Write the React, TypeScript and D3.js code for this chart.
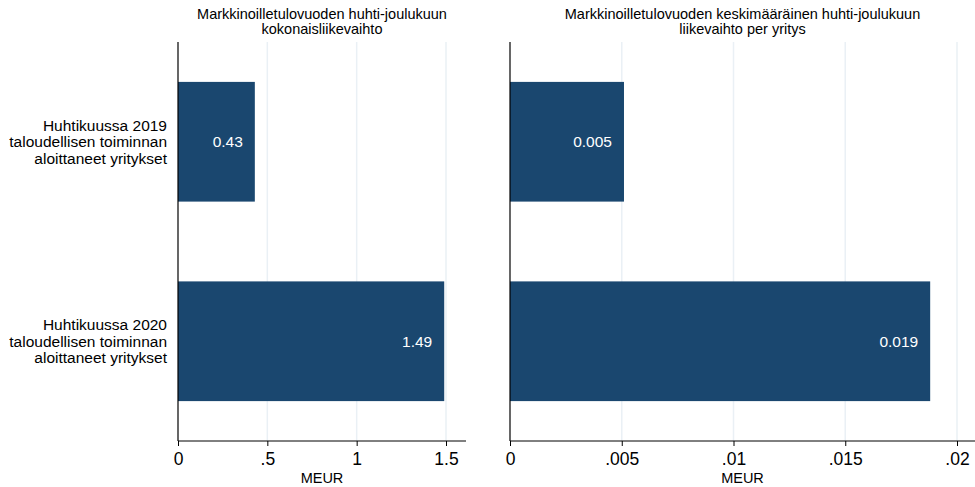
import * as d3 from "d3";
import { useEffect, useRef } from "react";

const categories = [
  ["Huhtikuussa 2019", "taloudellisen toiminnan", "aloittaneet yritykset"],
  ["Huhtikuussa 2020", "taloudellisen toiminnan", "aloittaneet yritykset"],
];
const totalValues = [0.43, 1.49];
const perFirmValues = [0.0051, 0.0188];
const totalTicks = [0, 0.5, 1, 1.5];
const perFirmTicks = [0, 0.005, 0.01, 0.015, 0.02];
const titles = [
  ["Markkinoilletulovuoden huhti-joulukuun", "kokonaisliikevaihto"],
  ["Markkinoilletulovuoden keskimääräinen huhti-joulukuun", "liikevaihto per yritys"],
];

const W = 975;
const H = 487;
const FONT = "Liberation Sans, Arial, sans-serif";
const BAR = "#1a476f";

export default function App() {
  const ref = useRef<SVGSVGElement | null>(null);
  useEffect(() => {
    if (!ref.current) return;
    const svg = d3.select(ref.current);
    svg.selectAll("*").remove();
    const top = 42;
    const bottom = 441;
    const y = d3.scaleBand().domain(["0", "1"]).range([top, bottom]).paddingInner(0.4).paddingOuter(0.2);
    const tfmt = (v: number) => (v === 0 ? "0" : String(v).replace(/^0/, ""));

    const panels = [
      { x0: 178, x1: 466, domain: [0, 1.5], rEnd: 446, values: totalValues, ticks: totalTicks, fmt: (v: number) => v.toFixed(2), title: titles[0] },
      { x0: 510, x1: 975, domain: [0, 0.02], rEnd: 957, values: perFirmValues, ticks: perFirmTicks, fmt: (v: number) => v.toFixed(3), title: titles[1] },
    ];

    panels.forEach((p) => {
      const x = d3.scaleLinear().domain(p.domain).range([p.x0, p.rEnd]);
      const g = svg.append("g");
      // grid
      g.selectAll("line.grid")
        .data(p.ticks.filter((t) => t !== 0))
        .enter()
        .append("line")
        .attr("x1", (d) => x(d))
        .attr("x2", (d) => x(d))
        .attr("y1", top)
        .attr("y2", bottom)
        .attr("stroke", "#eaf0f5")
        .attr("stroke-width", 1.5);
      // bars
      g.selectAll("rect")
        .data(p.values)
        .enter()
        .append("rect")
        .attr("x", x(0))
        .attr("y", (_, i) => y(String(i)) ?? 0)
        .attr("width", (d) => x(d) - x(0))
        .attr("height", y.bandwidth())
        .attr("fill", BAR);
      g.selectAll("text.val")
        .data(p.values)
        .enter()
        .append("text")
        .attr("x", (d) => x(d) - 12)
        .attr("y", (_, i) => (y(String(i)) ?? 0) + y.bandwidth() / 2 + 5.5)
        .attr("text-anchor", "end")
        .attr("fill", "#ffffff")
        .attr("font-family", FONT)
        .attr("font-size", "15.5px")
        .text((d) => p.fmt(d));
      // y axis line
      g.append("line")
        .attr("x1", p.x0)
        .attr("x2", p.x0)
        .attr("y1", top)
        .attr("y2", bottom)
        .attr("stroke", "#000")
        .attr("stroke-width", 1.2);
      // x axis
      const ax = g.append("g")
        .attr("transform", `translate(0,${bottom})`)
        .call(d3.axisBottom(x).tickValues(p.ticks).tickFormat((d) => tfmt(+d)).tickSize(5).tickPadding(7).tickSizeOuter(0));
      ax.select(".domain").attr("d", `M${p.x0},0H${p.x1}`).attr("stroke", "#000");
      ax.selectAll(".tick line").attr("stroke", "#000");
      ax.selectAll("text").attr("fill", "#000").attr("font-family", FONT).attr("font-size", "17.5px");
      g.append("text")
        .attr("x", (p.x0 + p.x1) / 2)
        .attr("y", 483)
        .attr("text-anchor", "middle")
        .attr("font-family", FONT)
        .attr("font-size", "14.5px")
        .text("MEUR");
      // title
      p.title.forEach((line, i) => {
        g.append("text")
          .attr("x", (p.x0 + p.x1) / 2)
          .attr("y", 19 + i * 15)
          .attr("text-anchor", "middle")
          .attr("font-family", FONT)
          .attr("font-size", "14.5px")
          .text(line);
      });
    });

    // category labels
    categories.forEach((lines, i) => {
      const cy = (y(String(i)) ?? 0) + y.bandwidth() / 2;
      lines.forEach((line, j) => {
        svg.append("text")
          .attr("x", 167)
          .attr("y", cy + (j - 1) * 16.5 + 5.5)
          .attr("text-anchor", "end")
          .attr("font-family", FONT)
          .attr("font-size", "15.5px")
          .text(line);
      });
    });
  }, []);
  return (
    <svg
      ref={ref}
      width={W}
      height={H}
      viewBox={`0 0 ${W} ${H}`}
      style={{ position: "absolute", left: 0, top: 0, background: "#fff" }}
    />
  );
}
